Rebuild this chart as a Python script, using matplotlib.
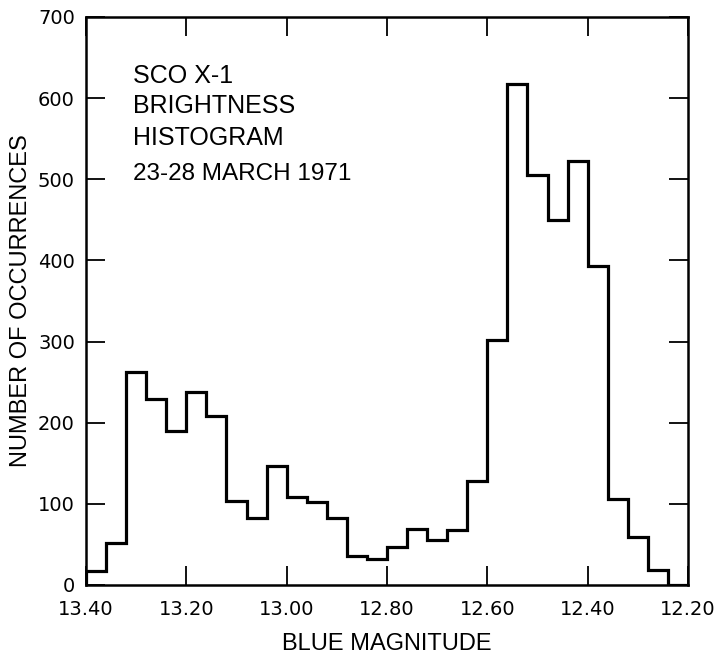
import numpy as np
import matplotlib
matplotlib.use("Agg")
import matplotlib.pyplot as plt

# bin layout of the histogram (blue magnitude, 0.04 mag bins)
mag_start = 13.40
mag_stop = 12.20
bin_width = 0.04

# occurrences per bin, from 13.40 down to 12.20
counts = [17, 52, 263, 229, 190, 238, 208, 103, 83, 147,
          109, 102, 82, 36, 32, 47, 69, 56, 68, 128,
          302, 618, 505, 450, 523, 393, 106, 59, 18, 0]

x_ticks = [13.40, 13.20, 13.00, 12.80, 12.60, 12.40, 12.20]
x_ticklabels = ["13.40", "13.20", "13.00", "12.80", "12.60", "12.40", "12.20"]
y_ticks = [0, 100, 200, 300, 400, 500, 600, 700]

title_lines = ["SCO X-1", "BRIGHTNESS", "HISTOGRAM"]
date_line = "23-28 MARCH 1971"

n_bins = len(counts)
edges = mag_start - bin_width * np.arange(n_bins + 1)

fig = plt.figure(figsize=(7.16, 6.56), dpi=100)
ax = fig.add_axes([86 / 716, 71 / 656, 602 / 716, 568 / 656])

ax.stairs(counts, edges, baseline=0, color="black", linewidth=2.3)

ax.set_xlim(mag_start, mag_stop)
ax.set_ylim(0, 700)

ax.set_xticks(x_ticks)
ax.set_xticklabels(x_ticklabels)
ax.set_yticks(y_ticks)

ax.tick_params(axis="both", direction="in", length=14, width=1.3,
               top=True, right=True, labelsize=14, colors="black")
ax.tick_params(axis="x", pad=11)
ax.tick_params(axis="y", pad=8)
for lab in ax.get_xticklabels() + ax.get_yticklabels():
    lab.set_family("DejaVu Sans")

for sp in ax.spines.values():
    sp.set_linewidth(1.8)

ax.set_xlabel("BLUE MAGNITUDE", fontsize=17, family="Liberation Sans", labelpad=10)
ax.set_ylabel("NUMBER OF OCCURRENCES", fontsize=17, family="Liberation Sans", labelpad=4)

# annotation block in the upper left
baselines = [0.884, 0.831, 0.775]
for line, yb in zip(title_lines, baselines):
    ax.text(0.078, yb, line, transform=ax.transAxes, fontsize=18,
            family="Liberation Sans", va="baseline", ha="left")
ax.text(0.078, 0.713, date_line, transform=ax.transAxes, fontsize=17.5,
        family="Liberation Sans", va="baseline", ha="left")

fig.savefig("out.png", dpi=100)
